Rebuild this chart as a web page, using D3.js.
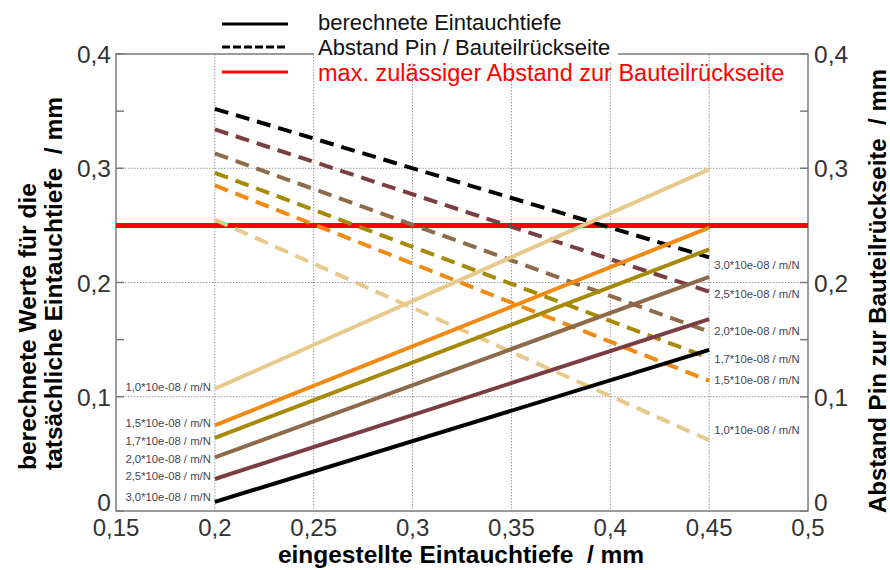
<!DOCTYPE html>
<html>
<head>
    <meta charset="utf-8">
    <style>
        body { margin: 0; background: #fff; }
        text { font-family: "Liberation Sans", Arial, sans-serif; white-space: pre; }
        .tick-lbl { fill: #333; }
    </style>
</head>
<body>
    <script src="https://d3js.org/d3.v7.min.js"></script>
    <script>
        const width = 890;
        const height = 570;

        // Federnachgiebigkeit der Kurven
        const labels = ["1,0*10e-08 / m/N", "1,5*10e-08 / m/N", "1,7*10e-08 / m/N",
                        "2,0*10e-08 / m/N", "2,5*10e-08 / m/N", "3,0*10e-08 / m/N"];
        const colors = ["#e8c98c", "#f08a12", "#a68a05", "#8c6a4a", "#7a3e40", "#000000"];
        const xRange = [0.2, 0.45];
        // berechnete Eintauchtiefe (durchgezogen)
        const solidStart = [0.107, 0.075, 0.064, 0.047, 0.028, 0.008];
        const solidEnd   = [0.299, 0.248, 0.229, 0.205, 0.168, 0.141];
        // Abstand Pin / Bauteilrueckseite (gestrichelt)
        const dashStart = [0.255, 0.285, 0.296, 0.313, 0.334, 0.352];
        const dashEnd   = [0.062, 0.114, 0.134, 0.157, 0.192, 0.222];
        const maxAbstand = 0.25;
        // Hoehe der Beschriftungen (in Achsenwerten)
        const leftLabelAt  = [0.1085, 0.077, 0.0613, 0.0455, 0.0306, 0.0123];
        const rightLabelAt = [0.0709, 0.1147, 0.133, 0.1576, 0.190, 0.2153];

        const xTicks = [0.15, 0.2, 0.25, 0.3, 0.35, 0.4, 0.45, 0.5];
        const yTicks = [0, 0.1, 0.2, 0.3, 0.4];
        const yMinor = [0.15, 0.35];
        const fmt = d => String(+d.toFixed(2)).replace(".", ",");

        const m = {l: 116, r: 808, t: 54, b: 511};
        const x = d3.scaleLinear().domain([0.15, 0.5]).range([m.l, m.r]);
        const y = d3.scaleLinear().domain([0, 0.4]).range([m.b, m.t]);

        const svg = d3.select("body").append("svg").attr("width", width).attr("height", height);

        // grid
        svg.append("g").selectAll("line").data(xTicks.slice(1, -1)).enter().append("line")
            .attr("x1", d => x(d)).attr("x2", d => x(d)).attr("y1", m.t).attr("y2", m.b)
            .attr("stroke", "#999").attr("stroke-width", 1).attr("stroke-dasharray", "1.5,1.5");
        svg.append("g").selectAll("line").data(yTicks.slice(1, -1)).enter().append("line")
            .attr("y1", d => y(d)).attr("y2", d => y(d)).attr("x1", m.l).attr("x2", m.r)
            .attr("stroke", "#999").attr("stroke-width", 1).attr("stroke-dasharray", "1.5,1.5");

        // box
        svg.append("rect").attr("x", m.l).attr("y", m.t).attr("width", m.r - m.l).attr("height", m.b - m.t)
            .attr("fill", "none").attr("stroke", "#7a7a7a").attr("stroke-width", 1.5);

        // ticks inward
        const tk = svg.append("g").attr("stroke", "#7a7a7a").attr("stroke-width", 1.5);
        yTicks.concat(yMinor).forEach(d => {
            tk.append("line").attr("x1", m.l).attr("x2", m.l + 8).attr("y1", y(d)).attr("y2", y(d));
            tk.append("line").attr("x1", m.r - 8).attr("x2", m.r).attr("y1", y(d)).attr("y2", y(d));
        });

        // tick labels
        svg.append("g").selectAll("text").data(xTicks).enter().append("text")
            .attr("class", "tick-lbl").attr("x", d => x(d)).attr("y", 536)
            .attr("text-anchor", "middle").attr("font-size", 24).text(fmt);
        svg.append("g").selectAll("text").data(yTicks).enter().append("text")
            .attr("class", "tick-lbl").attr("x", m.l - 5).attr("y", d => y(d) + (d === 0 ? 0 : 9))
            .attr("text-anchor", "end").attr("font-size", 24.5).text(fmt);
        svg.append("g").selectAll("text").data(yTicks).enter().append("text")
            .attr("class", "tick-lbl").attr("x", m.r + 6).attr("y", d => y(d) + (d === 0 ? 0 : 9))
            .attr("text-anchor", "start").attr("font-size", 24.5).text(fmt);

        // red limit
        svg.append("line").attr("x1", m.l).attr("x2", m.r).attr("y1", y(maxAbstand)).attr("y2", y(maxAbstand))
            .attr("stroke", "#ff0000").attr("stroke-width", 5);

        const line = d3.line().x(d => x(d[0])).y(d => y(d[1]));

        // dashed lines
        svg.append("g").selectAll("path").data(labels).enter().append("path")
            .attr("d", (d, i) => line([[xRange[0], dashStart[i]], [xRange[1], dashEnd[i]]]))
            .attr("stroke", (d, i) => colors[i]).attr("stroke-width", 4).attr("fill", "none")
            .attr("stroke-dasharray", "14,8");
        // solid lines
        svg.append("g").selectAll("path").data(labels).enter().append("path")
            .attr("d", (d, i) => line([[xRange[0], solidStart[i]], [xRange[1], solidEnd[i]]]))
            .attr("stroke", (d, i) => colors[i]).attr("stroke-width", 4).attr("fill", "none");

        // curve labels
        svg.append("g").selectAll("text").data(labels).enter().append("text")
            .attr("x", x(0.2) - 4).attr("y", (d, i) => y(leftLabelAt[i]) + 4)
            .attr("text-anchor", "end").attr("font-size", 11.3).attr("fill", "#454552").text(d => d);
        svg.append("g").selectAll("text").data(labels).enter().append("text")
            .attr("x", x(0.45) + 5).attr("y", (d, i) => y(rightLabelAt[i]) + 4)
            .attr("text-anchor", "start").attr("font-size", 11.3).attr("fill", "#454552").text(d => d);

        // legend
        svg.append("rect").attr("x", 314).attr("y", 10).attr("width", 304).attr("height", 52).attr("fill", "#fff");
        const leg = [
            {t: "berechnete Eintauchtiefe", c: "#000", dash: null, ty: 30, ly: 24, fs: 22},
            {t: "Abstand Pin / Bauteilrückseite", c: "#000", dash: "8,3", ty: 55, ly: 47, fs: 22},
            {t: "max. zulässiger Abstand zur Bauteilrückseite", c: "#ff0000", dash: null, ty: 81, ly: 72, fs: 23.5}
        ];
        leg.forEach(d => {
            svg.append("line").attr("x1", 222).attr("x2", 288).attr("y1", d.ly).attr("y2", d.ly)
                .attr("stroke", d.c).attr("stroke-width", 3).attr("stroke-dasharray", d.dash);
            svg.append("text").attr("x", 318).attr("y", d.ty).attr("font-size", d.fs)
                .attr("fill", d.c === "#000" ? "#111" : d.c).text(d.t);
        });

        // axis titles
        svg.append("text").attr("x", 461).attr("y", 563).attr("text-anchor", "middle")
            .attr("font-size", 24.5).attr("font-weight", "bold").text("eingestellte Eintauchtiefe  / mm");
        svg.append("text").attr("transform", "translate(36,470) rotate(-90)")
            .attr("font-size", 24.5).attr("font-weight", "bold").text("berechnete Werte für die");
        svg.append("text").attr("transform", "translate(62,470) rotate(-90)")
            .attr("font-size", 24.5).attr("font-weight", "bold").text("tatsächliche Eintauchtiefe  / mm");
        svg.append("text").attr("transform", "translate(886,291) rotate(-90)").attr("text-anchor", "middle")
            .attr("font-size", 24).attr("font-weight", "bold").text("Abstand Pin zur Bauteilrückseite  / mm");
    </script>
</body>
</html>
